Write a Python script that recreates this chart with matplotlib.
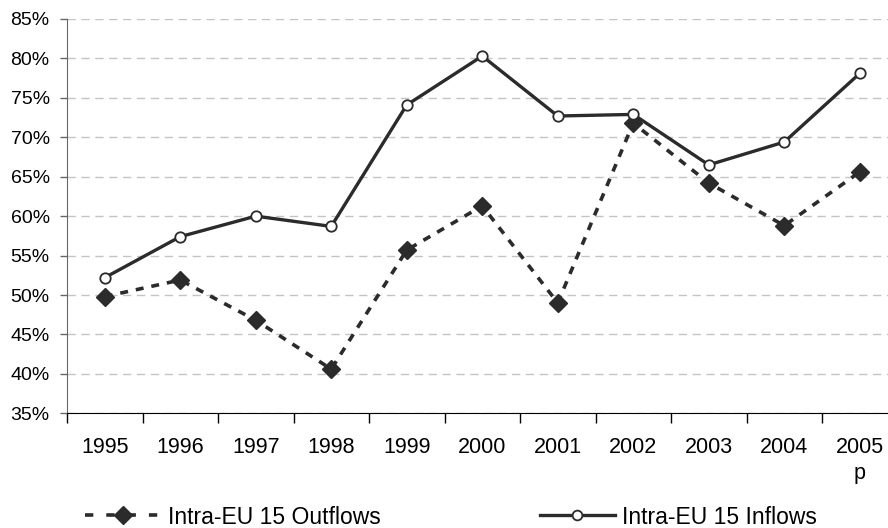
import matplotlib
matplotlib.use("Agg")
import matplotlib.pyplot as plt
from matplotlib.lines import Line2D
from matplotlib.ticker import FixedLocator, FuncFormatter

plt.rcParams['font.family'] = ['Liberation Sans', 'DejaVu Sans']

years = ["1995", "1996", "1997", "1998", "1999", "2000",
         "2001", "2002", "2003", "2004", "2005\np"]
outflows = [49.8, 51.9, 46.8, 40.6, 55.7, 61.3, 49.0, 71.8, 64.2, 58.8, 65.6]
inflows = [52.2, 57.4, 60.0, 58.7, 74.1, 80.3, 72.7, 72.9, 66.5, 69.4, 78.1]

dark = "#2b2b2b"
x = list(range(len(years)))

fig = plt.figure(figsize=(8.88, 5.28), dpi=100)
ax = fig.add_axes([67 / 888, 1 - 413.3 / 528, 830.5 / 888, 394.3 / 528])

ax.plot(x, outflows, color=dark, lw=2.6, ls=(0, (2.2, 2.2)),
        marker="D", ms=9.5, mfc=dark, mec=dark, zorder=3)
ax.plot(x, inflows, color=dark, lw=2.4, ls="-",
        marker="o", ms=7.5, mfc="white", mec=dark, mew=1.3, zorder=4)

ax.set_xlim(-0.5, len(years) - 0.5)
ax.set_ylim(35, 85)
ax.set_yticks(range(35, 90, 5))
ax.yaxis.set_major_formatter(FuncFormatter(lambda v, p: f"{v:.0f}%"))
ax.yaxis.grid(True, color="#c4c4c4", lw=1, ls=(0, (6, 4)))
ax.set_axisbelow(True)

ax.set_xticks(x)
ax.set_xticklabels(years, linespacing=1.3)
ax.xaxis.set_minor_locator(FixedLocator([i - 0.5 for i in range(len(years) + 1)]))
ax.tick_params(axis="x", which="major", length=0, pad=17, labelsize=15.5)
ax.tick_params(axis="x", which="minor", length=7, width=1, color="black", direction="out")
ax.tick_params(axis="y", length=5, width=1, color="#666666", labelsize=14, pad=7.5)

for side in ("top", "right"):
    ax.spines[side].set_visible(False)
ax.spines["left"].set_color("#666666")
ax.spines["bottom"].set_color("black")

handles = [
    Line2D([], [], color=dark, lw=2.6, ls=(0, (2.3, 3.6)), marker="D",
           ms=9.5, mfc=dark, mec=dark),
    Line2D([], [], color=dark, lw=2.4, ls="-", marker="o", ms=7,
           mfc="white", mec=dark, mew=1.3),
]
fig.legend(handles, ["Intra-EU 15 Outflows", "Intra-EU 15 Inflows"],
           loc="center left", bbox_to_anchor=(85 / 888, 1 - 517 / 528),
           ncol=2, frameon=False, fontsize=16.5, handlelength=3.3,
           handletextpad=0.3, columnspacing=6.95, borderpad=0, borderaxespad=0)

fig.savefig("out.png", dpi=100)
